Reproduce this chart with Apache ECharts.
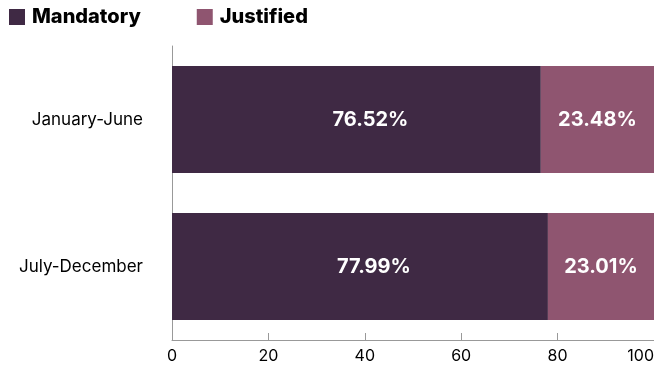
<!DOCTYPE html>
<html><head><meta charset="utf-8">
<script src="https://cdn.jsdelivr.net/npm/echarts@6/dist/echarts.min.js"></script>
<style>html,body{margin:0;padding:0;background:#fff;overflow:hidden}#c{width:654px;height:366px}</style>
</head><body><div id="c"></div>
<script>
const categories = ['January-June', 'July-December'];
const mandatory = [76.52, 77.99];
const justified = [23.48, 23.01];
const xTicks = [0, 20, 40, 60, 80, 100];

const chart = echarts.init(document.getElementById('c'), null, {renderer: 'canvas'});
const labelStyle = {show: true, color: '#fff', fontFamily: 'Inter', fontWeight: 'bold', fontSize: 20,
  formatter: p => p.value.toFixed(2) + '%'};
chart.setOption({
  animation: false,
  legend: {
    left: 9, top: 7, padding: 0, itemWidth: 16, itemHeight: 16, itemGap: 56,
    icon: 'rect',
    itemStyle: {borderWidth: 0},
    textStyle: {fontFamily: 'Inter', fontWeight: 800, fontSize: 20, color: '#000', padding: [0,0,0,2]},
    data: ['Mandatory', 'Justified']
  },
  grid: {left: 172, right: 0, top: 46, bottom: 26, containLabel: false, outerBoundsMode: 'none'},
  xAxis: {
    type: 'value', min: xTicks[0], max: xTicks[xTicks.length-1], interval: 20,
    axisLine: {show: true, lineStyle: {color: '#999', width: 1}},
    axisTick: {show: true, inside: true, length: 7, lineStyle: {color: '#999'}},
    splitLine: {show: false},
    axisLabel: {color: '#000', fontFamily: 'Inter', fontSize: 16, margin: 8, alignMaxLabel: 'right'}
  },
  yAxis: {
    type: 'category', data: categories, inverse: true,
    axisLine: {show: true, lineStyle: {color: '#999', width: 1}},
    axisTick: {show: false},
    axisLabel: {color: '#000', fontFamily: 'Inter', fontSize: 17, margin: 29}
  },
  series: [
    {name: 'Mandatory', type: 'bar', stack: 'a', data: mandatory, barWidth: 107,
     itemStyle: {color: '#3f2944'}, label: Object.assign({position: 'inside', offset: [14, 0]}, labelStyle)},
    {name: 'Justified', type: 'bar', stack: 'a', data: justified, barWidth: 107,
     itemStyle: {color: '#8f5570'}, label: Object.assign({position: 'inside'}, labelStyle)}
  ]
});
</script></body></html>
